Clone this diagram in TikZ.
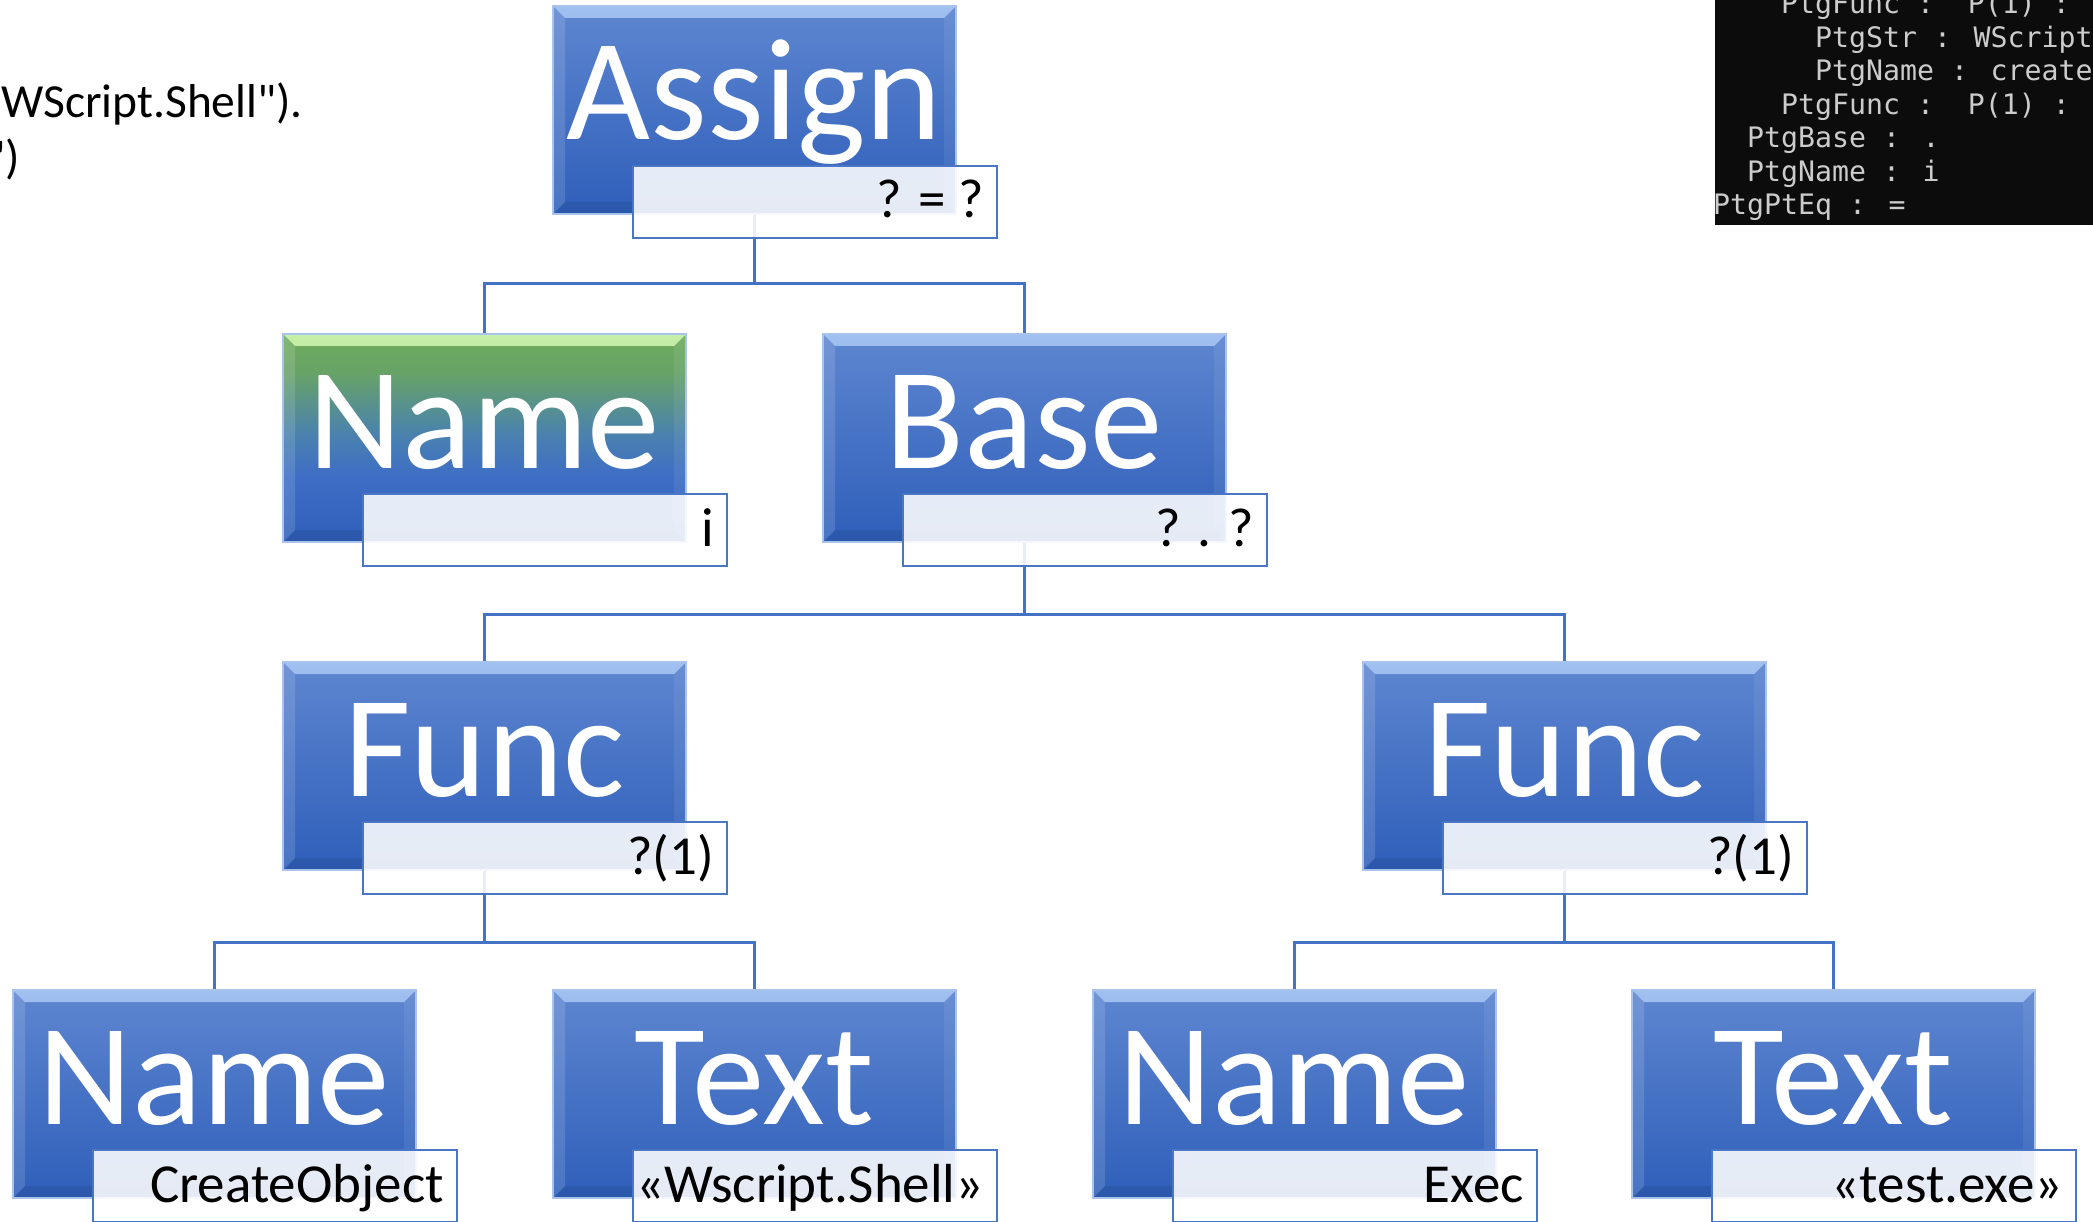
\documentclass[tikz,border=0pt]{standalone}
\usepackage{fontspec}
\setmainfont{Carlito}[Ligatures=TeXOff]
\newfontfamily\termfont{DejaVu Sans Mono}
\usetikzlibrary{calc}
\pgfdeclarelayer{back}
\pgfdeclarelayer{bg}
\pgfsetlayers{back,bg,main}

\definecolor{conncol}{HTML}{4472C4}
\definecolor{btop}{HTML}{5E86D0}
\definecolor{bbot}{HTML}{2F5FBA}
\definecolor{bevhi}{HTML}{A0C0F0}
\definecolor{bevlo}{HTML}{7499DD}
\definecolor{edgecol}{HTML}{A9C3EC}
\definecolor{subborder}{HTML}{4A76C6}
\definecolor{termbg}{HTML}{0C0C0C}
\definecolor{termtxt}{HTML}{CCCCCC}
\definecolor{gba}{HTML}{3E6EC5}
\definecolor{gbb}{HTML}{4A82AE}
\definecolor{gbc}{HTML}{68A366}
\definecolor{gbd}{HTML}{6FAD5C}
\definecolor{gbevhi}{HTML}{C6EFA8}
\definecolor{gbevlo}{HTML}{8DC677}

\pgfdeclareverticalshading{bluebox}{100bp}{color(0bp)=(bbot); color(25bp)=(bbot); color(75bp)=(btop); color(100bp)=(btop)}
\pgfdeclareverticalshading{greenbox}{100bp}{color(0bp)=(bbot); color(25bp)=(bbot); color(41bp)=(gba); color(51bp)=(gbb); color(66bp)=(gbc); color(75bp)=(gbd); color(100bp)=(gbd)}

\newcommand\mybevel[2]{%
 \shade[top color=#1, bottom color=#2] (path picture bounding box.north west) -- (path picture bounding box.north east) -- ([shift={(-12pt,-12pt)}]path picture bounding box.north east) -- ([shift={(12pt,-12pt)}]path picture bounding box.north west) -- cycle;
 \fill[white,opacity=0.13] (path picture bounding box.north west) -- ([shift={(12pt,-12pt)}]path picture bounding box.north west) -- ([shift={(12pt,12pt)}]path picture bounding box.south west) -- (path picture bounding box.south west) -- cycle;
 \fill[white,opacity=0.07] (path picture bounding box.north east) -- ([shift={(-12pt,-12pt)}]path picture bounding box.north east) -- ([shift={(-12pt,12pt)}]path picture bounding box.south east) -- (path picture bounding box.south east) -- cycle;
 \fill[black,opacity=0.08] (path picture bounding box.south west) -- ([shift={(12pt,12pt)}]path picture bounding box.south west) -- ([shift={(-12pt,12pt)}]path picture bounding box.south east) -- (path picture bounding box.south east) -- cycle;
}

\tikzset{
 mainbox/.style={rectangle, minimum width=403pt, minimum height=208pt, inner sep=0pt, outer sep=0pt,
   anchor=north west, shade, shading=bluebox, draw=edgecol, line width=1.2pt,
   path picture={\mybevel{bevhi}{bevlo}}},
 greenbox/.style={mainbox, shading=greenbox, path picture={\mybevel{gbevhi}{gbevlo}}},
 subbox/.style={rectangle, minimum width=364pt, minimum height=72pt, inner sep=0pt, outer sep=0pt,
   anchor=north west, fill=white, fill opacity=0.88, draw=subborder, line width=2pt},
 mainlbl/.style={anchor=base, inner sep=0pt, text=white, font=\fontsize{145}{170}\selectfont},
 sublbl/.style={anchor=base east, inner sep=0pt, text=black, font=\fontsize{55}{66}\selectfont},
 conn/.style={draw=conncol, line width=3pt},
 codetxt/.style={anchor=base west, inner sep=0pt, text=black, font=\fontsize{47.5}{57}\selectfont},
 termline/.style={anchor=base west, inner sep=0pt, text=termtxt, font=\termfont\fontsize{28.2}{34}\selectfont},
}

% #1 name, #2 left, #3 top, #4 label, #5 sub text, #6 style
\newcommand\mknode[6]{%
 \node[#6] (#1) at (#2,-#3) {};
 \node[mainlbl] (#1l) at (#2+201.5,-#3-134) {#4};
 \node[subbox] (#1s) at (#2+80,-#3-160) {};
 \node[sublbl] (#1t) at (#2+431,-#3-212) {#5};
}

\begin{document}
\begin{tikzpicture}[x=1pt,y=1pt]
\useasboundingbox (0,0) rectangle (2093,-1222);
\begin{pgfonlayer}{back}
 \fill[white] (0,0) rectangle (2093,-1222);
\end{pgfonlayer}

% code fragment at top left
\node[codetxt] (code1) at (1,-118) {WScript.Shell").};
\node[codetxt] (code2) at (-14,-174) {")};

% terminal
\fill[termbg] (1715,0) rectangle (2093,-225);
\begin{scope}
 \clip (1715,0) rectangle (2093,-225);
 \node[termline] (t1) at (1713+4*17,-14) {PtgFunc :~~P(1) :};
 \node[termline] (t2) at (1713+6*17,-47.5) {PtgStr : WScript.Shell};
 \node[termline] (t3) at (1713+6*17,-81) {PtgName : createobject};
 \node[termline] (t4) at (1713+4*17,-114.5) {PtgFunc :~~P(1) :};
 \node[termline] (t5) at (1713+2*17,-148) {PtgBase : .};
 \node[termline] (t6) at (1713+2*17,-181.5) {PtgName : i};
 \node[termline] (t7) at (1713,-215) {PtgPtEq : =};
\end{scope}

% tree
\mknode{assign}{553}{6}{Assign}{? = ?}{mainbox}
\mknode{nameA}{283}{334}{Name}{i}{greenbox}
\mknode{base}{823}{334}{Base}{? . ?}{mainbox}
\mknode{funcA}{283}{662}{Func}{?(1)}{mainbox}
\mknode{funcB}{1363}{662}{Func}{?(1)}{mainbox}
\mknode{nameB}{13}{990}{Name}{CreateObject}{mainbox}
\mknode{textA}{553}{990}{Text}{«Wscript.Shell»}{mainbox}
\mknode{nameC}{1093}{990}{Name}{Exec}{mainbox}
\mknode{textB}{1632}{990}{Text}{«test.exe»}{mainbox}

\begin{pgfonlayer}{bg}
 \draw[conn] (assign.south) -- ++(0,-70) -| (nameA.north);
 \draw[conn] (assign.south) -- ++(0,-70) -| (base.north);
 \draw[conn] (base.south) -- ++(0,-72) -| (funcA.north);
 \draw[conn] (base.south) -- ++(0,-72) -| (funcB.north);
 \draw[conn] (funcA.south) -- ++(0,-72) -| (nameB.north);
 \draw[conn] (funcA.south) -- ++(0,-72) -| (textA.north);
 \draw[conn] (funcB.south) -- ++(0,-72) -| (nameC.north);
 \draw[conn] (funcB.south) -- ++(0,-72) -| (textB.north);
\end{pgfonlayer}
\end{tikzpicture}
\end{document}
